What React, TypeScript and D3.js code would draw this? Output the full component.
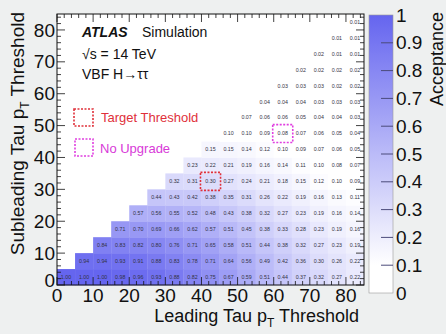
import { useEffect, useRef } from 'react';
import * as d3 from 'd3';

// threshold bins (GeV), 5 GeV wide
const thresholds = [0, 5, 10, 15, 20, 25, 30, 35, 40, 45, 50, 55, 60, 65, 70, 75, 80];

// acceptance per subleading threshold row, starting at leading = subleading
const accSub0 = [1.00, 1.00, 1.00, 0.98, 0.96, 0.93, 0.88, 0.82, 0.75, 0.67, 0.59, 0.51, 0.44, 0.37, 0.32, 0.27, 0.22];
const accSub5 = [0.94, 0.94, 0.93, 0.91, 0.88, 0.83, 0.78, 0.71, 0.64, 0.56, 0.49, 0.42, 0.36, 0.30, 0.26, 0.22];
const accSub10 = [0.84, 0.83, 0.82, 0.80, 0.76, 0.71, 0.65, 0.58, 0.51, 0.44, 0.38, 0.32, 0.27, 0.23, 0.19];
const accSub15 = [0.71, 0.70, 0.69, 0.66, 0.62, 0.57, 0.51, 0.45, 0.38, 0.33, 0.28, 0.23, 0.19, 0.16];
const accSub20 = [0.57, 0.56, 0.55, 0.52, 0.48, 0.43, 0.38, 0.32, 0.27, 0.23, 0.19, 0.16, 0.14];
const accSub25 = [0.44, 0.43, 0.42, 0.38, 0.35, 0.31, 0.26, 0.22, 0.19, 0.16, 0.13, 0.11];
const accSub30 = [0.32, 0.31, 0.30, 0.27, 0.24, 0.21, 0.18, 0.15, 0.12, 0.10, 0.09];
const accSub35 = [0.23, 0.22, 0.21, 0.19, 0.16, 0.14, 0.11, 0.10, 0.08, 0.07];
const accSub40 = [0.15, 0.15, 0.14, 0.12, 0.10, 0.09, 0.07, 0.06, 0.05];
const accSub45 = [0.10, 0.10, 0.09, 0.08, 0.07, 0.06, 0.05, 0.04];
const accSub50 = [0.07, 0.06, 0.06, 0.05, 0.04, 0.04, 0.03];
const accSub55 = [0.04, 0.04, 0.04, 0.03, 0.03, 0.03];
const accSub60 = [0.03, 0.03, 0.03, 0.02, 0.02];
const accSub65 = [0.02, 0.02, 0.02, 0.02];
const accSub70 = [0.02, 0.01, 0.01];
const accSub75 = [0.01, 0.01];
const accSub80 = [0.01];

const accRows = [accSub0, accSub5, accSub10, accSub15, accSub20, accSub25, accSub30, accSub35,
  accSub40, accSub45, accSub50, accSub55, accSub60, accSub65, accSub70, accSub75, accSub80];

const axisTicks = [0, 10, 20, 30, 40, 50, 60, 70, 80];
const colorTicks = [0, 0.1, 0.2, 0.3, 0.4, 0.5, 0.6, 0.7, 0.8, 0.9, 1];

// highlighted cells: [leading, subleading]
const targetCell = [40, 30];
const noUpgradeCell = [60, 45];

const FONT = "'Liberation Sans', Arial, Helvetica, sans-serif";

const App = () => {
  const svgRef = useRef(null);

  useEffect(() => {
    const w = 446;
    const h = 334;
    const svg = d3.select(svgRef.current);
    svg.selectAll('*').remove();
    svg.attr('width', w).attr('height', h);

    const x = d3.scaleLinear().domain([0, 85]).range([57, 364]);
    const y = d3.scaleLinear().domain([0, 85]).range([285, 14]);
    const color = d3.scaleLinear<string>().domain([0, 0.1, 1]).range(['#ffffff', '#ffffff', '#6565ef']);

    svg.append('rect').attr('width', w).attr('height', h).attr('fill', '#eef0f0');
    svg.append('rect')
      .attr('x', x(0)).attr('y', y(85))
      .attr('width', x(85) - x(0)).attr('height', y(0) - y(85))
      .attr('fill', '#ffffff');

    // cells
    const cells = [];
    accRows.forEach((row, r) => {
      row.forEach((v, k) => {
        cells.push({ lead: thresholds[r + k], sub: thresholds[r], v });
      });
    });

    const g = svg.append('g');
    g.selectAll('rect')
      .data(cells)
      .enter().append('rect')
      .attr('x', d => x(d.lead))
      .attr('y', d => y(d.sub + 5))
      .attr('width', d => x(d.lead + 5) - x(d.lead) + 0.3)
      .attr('height', d => y(d.sub) - y(d.sub + 5) + 0.3)
      .attr('fill', d => color(d.v));
    g.selectAll('text')
      .data(cells)
      .enter().append('text')
      .attr('x', d => x(d.lead + 2.5))
      .attr('y', d => y(d.sub + 2.5))
      .attr('dy', '0.35em')
      .attr('text-anchor', 'middle')
      .style('font-family', FONT)
      .style('font-size', '5.3px')
      .attr('fill', '#333344')
      .text(d => d3.format('.2f')(d.v));

    // highlighted boxes
    const box = (cell, col) => {
      svg.append('rect')
        .attr('x', x(cell[0]) - 1)
        .attr('y', y(cell[1] + 5) - 1)
        .attr('width', x(cell[0] + 5) - x(cell[0]) + 2)
        .attr('height', y(cell[1]) - y(cell[1] + 5) + 2)
        .attr('fill', 'none')
        .attr('stroke', col)
        .attr('stroke-width', 1.6)
        .attr('stroke-dasharray', '2,1.5');
    };
    box(targetCell, '#e0303a');
    box(noUpgradeCell, '#e040e0');

    // frame + ticks
    svg.append('rect')
      .attr('x', x(0)).attr('y', y(85))
      .attr('width', x(85) - x(0)).attr('height', y(0) - y(85))
      .attr('fill', 'none').attr('stroke', '#111').attr('stroke-width', 1);

    const ticks = svg.append('g').attr('stroke', '#111').attr('stroke-width', 0.8);
    d3.range(0, 86, 2).forEach(t => {
      const len = t % 10 === 0 ? 8 : 4;
      ticks.append('line').attr('x1', x(t)).attr('x2', x(t)).attr('y1', y(0)).attr('y2', y(0) - len);
      ticks.append('line').attr('x1', x(t)).attr('x2', x(t)).attr('y1', y(85)).attr('y2', y(85) + len);
      ticks.append('line').attr('y1', y(t)).attr('y2', y(t)).attr('x1', x(0)).attr('x2', x(0) + len);
      ticks.append('line').attr('y1', y(t)).attr('y2', y(t)).attr('x1', x(85)).attr('x2', x(85) - len);
    });

    svg.append('g').selectAll('text')
      .data(axisTicks)
      .enter().append('text')
      .attr('x', d => x(d))
      .attr('y', 302)
      .attr('text-anchor', 'middle')
      .style('font-family', FONT).style('font-size', '19px')
      .attr('fill', '#111')
      .text(d => d);
    svg.append('g').selectAll('text')
      .data(axisTicks)
      .enter().append('text')
      .attr('x', 55)
      .attr('y', d => d === 0 ? y(d) - 5 : y(d))
      .attr('dy', '0.35em')
      .attr('text-anchor', 'end')
      .style('font-family', FONT).style('font-size', '19px')
      .attr('fill', '#111')
      .text(d => d);

    // axis titles
    const xt = svg.append('text')
      .attr('x', 359).attr('y', 322)
      .attr('text-anchor', 'end')
      .style('font-family', FONT).style('font-size', '18px')
      .attr('fill', '#111');
    xt.append('tspan').text('Leading Tau p');
    xt.append('tspan').attr('dy', 5).style('font-size', '12px').text('T');
    xt.append('tspan').attr('dy', -5).text(' Threshold');

    const yt = svg.append('text')
      .attr('transform', 'translate(24, 12) rotate(-90)')
      .attr('text-anchor', 'end')
      .style('font-family', FONT).style('font-size', '19px')
      .attr('fill', '#111');
    yt.append('tspan').text('Subleading Tau p');
    yt.append('tspan').attr('dy', 5).style('font-size', '12px').text('T');
    yt.append('tspan').attr('dy', -5).text(' Threshold');

    // colour bar
    const cy = d3.scaleLinear().domain([0, 1]).range([293, 15]);
    const grad = svg.append('defs').append('linearGradient')
      .attr('id', 'accGrad').attr('x1', 0).attr('x2', 0).attr('y1', 1).attr('y2', 0);
    colorTicks.forEach(t => {
      grad.append('stop').attr('offset', t).attr('stop-color', color(t));
    });
    svg.append('rect')
      .attr('x', 369).attr('y', cy(1))
      .attr('width', 24).attr('height', cy(0) - cy(1))
      .attr('fill', 'url(#accGrad)')
      .attr('stroke', '#999').attr('stroke-width', 0.6);
    svg.append('g').selectAll('line')
      .data(colorTicks.filter(t => t > 0 && t < 1))
      .enter().append('line')
      .attr('x1', 381).attr('x2', 393)
      .attr('y1', d => cy(d)).attr('y2', d => cy(d))
      .attr('stroke', '#4a4a7a').attr('stroke-width', 1);
    svg.append('g').selectAll('text')
      .data(colorTicks)
      .enter().append('text')
      .attr('x', 396)
      .attr('y', d => cy(d))
      .attr('dy', '0.35em')
      .style('font-family', FONT).style('font-size', '19px')
      .attr('fill', '#111')
      .text(d => d3.format('~g')(d));
    svg.append('text')
      .attr('transform', 'translate(443, 12) rotate(-90)')
      .attr('text-anchor', 'end')
      .style('font-family', FONT).style('font-size', '18px')
      .attr('fill', '#111')
      .text('Acceptance');

    // labels
    const lab = svg.append('g').style('font-family', FONT).style('font-size', '14px').attr('fill', '#111');
    lab.append('text').attr('x', 82).attr('y', 37)
      .style('font-weight', 'bold').style('font-style', 'italic').text('ATLAS');
    lab.append('text').attr('x', 142).attr('y', 37).text('Simulation');
    lab.append('text').attr('x', 82).attr('y', 59).text('\u221As = 14 TeV');
    lab.append('text').attr('x', 82).attr('y', 79).text('VBF H\u2192\u03c4\u03c4');

    lab.append('rect').attr('x', 74).attr('y', 109).attr('width', 19).attr('height', 17)
      .attr('fill', 'none').attr('stroke', '#e0303a').attr('stroke-width', 1.6).attr('stroke-dasharray', '2,1.5');
    lab.append('text').attr('x', 101).attr('y', 122).style('font-size', '13px')
      .attr('fill', '#e0303a').text('Target Threshold');
    lab.append('rect').attr('x', 75).attr('y', 139).attr('width', 18).attr('height', 17)
      .attr('fill', 'none').attr('stroke', '#e040e0').attr('stroke-width', 1.6).attr('stroke-dasharray', '2,1.5');
    lab.append('text').attr('x', 100).attr('y', 153).style('font-size', '13px')
      .attr('fill', '#d83ad8').text('No Upgrade');
  }, []);

  return (
    <svg ref={svgRef} style={{ position: 'absolute', left: 0, top: 0 }}></svg>
  );
};

export default App;
